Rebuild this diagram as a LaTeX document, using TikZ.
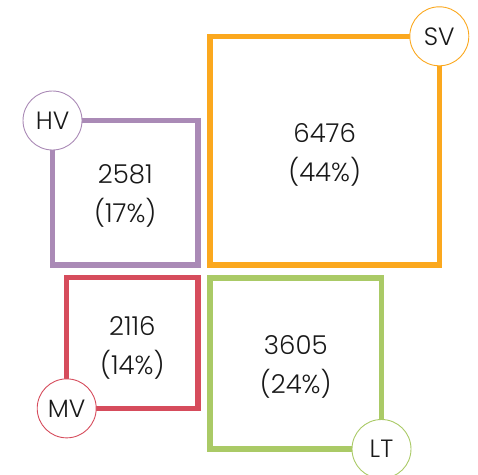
\documentclass[tikz,border=0pt]{standalone}
\usepackage{fontspec}
\setmainfont{Poppins Light}
\definecolor{hvcol}{RGB}{170,138,182}
\definecolor{svcol}{RGB}{251,168,30}
\definecolor{mvcol}{RGB}{214,76,92}
\definecolor{ltcol}{RGB}{170,202,102}
\definecolor{txtcol}{RGB}{25,25,25}
\tikzset{
  sqbox/.style={draw=#1, line width=5.5pt, rectangle, outer sep=0pt, inner sep=0pt},
  tag/.style={draw=#1, line width=0.9pt, circle, fill=white, minimum size=59pt, inner sep=0pt, text=txtcol, font=\fontsize{25}{28}\selectfont},
  valtext/.style={align=center, text=txtcol, font=\fontsize{26}{39}\selectfont, inner sep=0pt}
}
\begin{document}
\begin{tikzpicture}[x=1pt,y=-1pt]
\useasboundingbox (0,0) rectangle (478,474);
% boxes
\node[sqbox=hvcol, minimum width=145.5pt, minimum height=144.5pt] (hv) at (125.25,192.75) {};
\node[sqbox=svcol, minimum width=229.3pt, minimum height=228.7pt] (sv) at (324.65,150.65) {};
\node[sqbox=mvcol, minimum width=131.3pt, minimum height=130.7pt] (mv) at (132.35,343) {};
\node[sqbox=ltcol, minimum width=171.5pt, minimum height=171pt] (lt) at (295.75,363.5) {};
% values
\node[valtext] (hvv) at (hv.center) [yshift=-3.5pt] {2581\\(17\%)};
\node[valtext] (svv) at (sv.center) [yshift=-4.5pt] {6476\\(44\%)};
\node[valtext] (mvv) at (mv.center) [yshift=-4.5pt] {2116\\(14\%)};
\node[valtext] (ltv) at (lt.center) [yshift=-3.5pt] {3605\\(24\%)};
% tags
\node[tag=hvcol] (hvtag) at (hv.north west) {HV};
\node[tag=svcol] (svtag) at (sv.north east) {SV};
\node[tag=mvcol] (mvtag) at (mv.south west) {MV};
\node[tag=ltcol] (lttag) at (lt.south east) {LT};
\end{tikzpicture}
\end{document}
